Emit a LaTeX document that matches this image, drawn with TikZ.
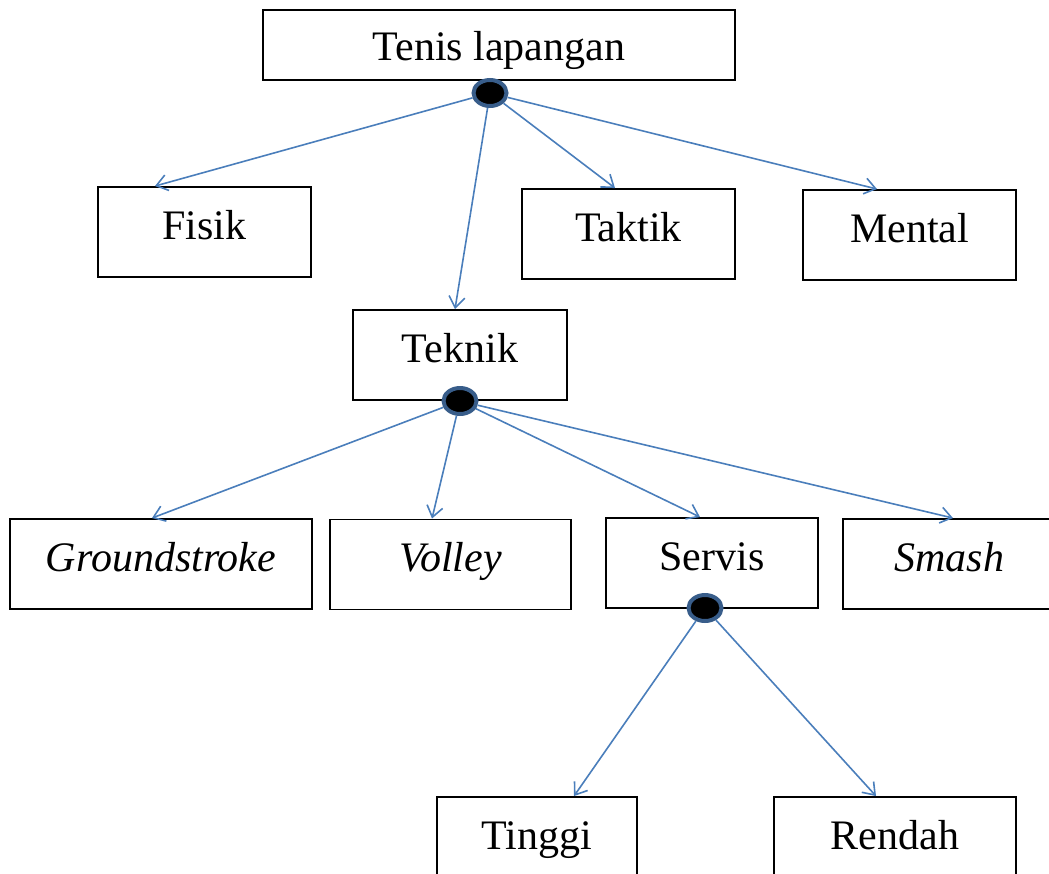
\documentclass[tikz,border=0pt]{standalone}
\usepackage{fontspec}
\setmainfont{Liberation Serif}
\usetikzlibrary{shapes.geometric,arrows.meta}
\definecolor{arrowblue}{HTML}{4A7EBB}
\definecolor{dotblue}{HTML}{385D8A}
\begin{document}
\begin{tikzpicture}[x=1pt,y=-1pt,
  kotak/.style={rectangle, draw=black, line width=1.9pt, inner sep=0pt, minimum height=90pt,
    text height=30pt, text depth=16pt, font=\fontsize{42}{50}\selectfont},
  titik/.style={ellipse, draw=dotblue, line width=4pt, fill=black, inner sep=0pt,
    minimum width=33pt, minimum height=26pt},
  panah/.style={draw=arrowblue, line width=1.6pt, -{Straight Barb[length=11pt,width=16pt]}}]
\clip (0,0) rectangle (1049,873);
% level 1
\node[kotak, minimum width=472pt, minimum height=70pt, text height=38pt, text depth=8pt](tenis) at (499,45) {Tenis lapangan};
% level 2
\node[kotak, minimum width=213pt](fisik) at (204.5,232) {Fisik};
\node[kotak, minimum width=213pt](taktik) at (628.5,234) {Taktik};
\node[kotak, minimum width=213pt](mental) at (909.5,235) {Mental};
\node[kotak, minimum width=214pt](teknik) at (460,355) {Teknik};
% level 3
\node[kotak, minimum width=302pt](ground) at (161,564) {\itshape Groundstroke};
\node[kotak, minimum width=241pt](volley) at (450.5,564.5) {\itshape Volley};
\node[kotak, minimum width=212pt](servis) at (712,563) {Servis};
\node[kotak, minimum width=213pt](smash) at (949.5,564) {\itshape Smash};
% level 4
\node[kotak, minimum width=200pt](tinggi) at (537,842) {Tinggi};
\node[kotak, minimum width=242pt](rendah) at (895,842) {Rendah};
% dots
\node[titik](d1) at (490,93) {};
\node[titik](d2) at (460,401) {};
\node[titik](d3) at (705,608) {};
% arrows
\draw[panah] (d1) -- (155,0 |- fisik.north);
\draw[panah] (d1) -- (455,0 |- teknik.north);
\draw[panah] (d1) -- (615,0 |- taktik.north);
\draw[panah] (d1) -- (877,0 |- mental.north);
\draw[panah] (d2) -- (152,0 |- ground.north);
\draw[panah] (d2) -- (432,0 |- volley.north);
\draw[panah] (d2) -- (700,0 |- servis.north);
\draw[panah] (d2) -- (953,0 |- smash.north);
\draw[panah] (d3) -- (574,0 |- tinggi.north);
\draw[panah] (d3) -- (876,0 |- rendah.north);
\end{tikzpicture}
\end{document}
